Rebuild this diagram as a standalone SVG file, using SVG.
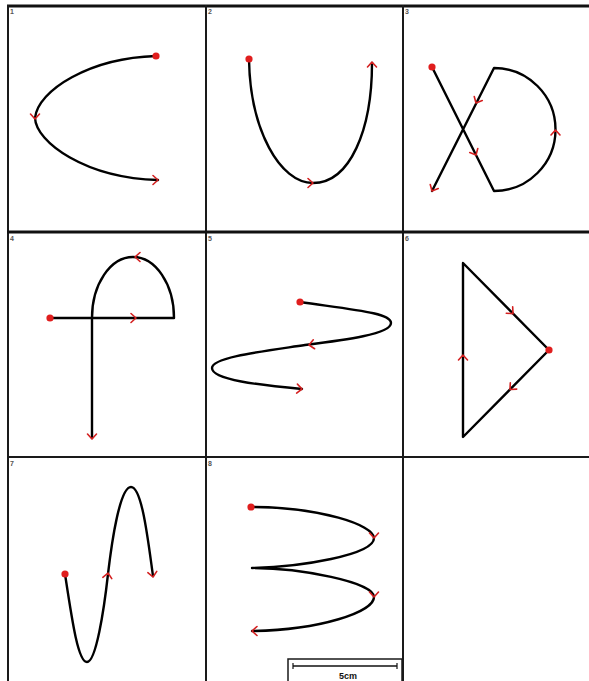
<svg xmlns="http://www.w3.org/2000/svg" xmlns:xlink="http://www.w3.org/1999/xlink" width="589" height="681" viewBox="0 0 589 681">
<style>
.grid{stroke:#1a1a1a;stroke-width:2;fill:none}
.thick{stroke:#111;stroke-width:3;fill:none}
.curve{stroke:#000;stroke-width:2.4;fill:none;stroke-linejoin:round;stroke-linecap:round}
.dot{fill:#e01e1e}
.num{font-family:"Liberation Sans",Arial,sans-serif;font-size:7px;font-weight:bold;fill:#555}
.lbl{font-family:"Liberation Sans",Arial,sans-serif;font-size:9px;font-weight:bold;fill:#111}
</style>
<defs>
<path id="chev" d="M-5,-4.5 L0,0 L-5,4.5" fill="none" stroke="#d42020" stroke-width="1.6" stroke-linecap="round" stroke-linejoin="round"/>
</defs>
<rect x="0" y="0" width="589" height="681" fill="#fff"/>
<g id="grid">
<line class="thick" x1="7" y1="6" x2="589" y2="6"/>
<line class="grid" x1="8" y1="5" x2="8" y2="681"/>
<line class="grid" x1="206" y1="5" x2="206" y2="681"/>
<line class="grid" x1="403" y1="5" x2="403" y2="681"/>
<line class="thick" x1="7" y1="232" x2="589" y2="232"/>
<line class="grid" x1="7" y1="457" x2="589" y2="457"/>
</g>
<g id="numbers">
<text class="num" x="10" y="14">1</text>
<text class="num" x="208" y="14">2</text>
<text class="num" x="405" y="14">3</text>
<text class="num" x="10" y="241">4</text>
<text class="num" x="208" y="241">5</text>
<text class="num" x="405" y="241">6</text>
<text class="num" x="10" y="466">7</text>
<text class="num" x="208" y="466">8</text>
</g>
<g id="connectors">
<path class="curve" d="M156,56 C 90,58 38,90 35,118 C 36,142 85,178 158,180"/>
<path class="curve" d="M249,59 C 250,130 280,183 313,183 C 350,183 372,130 372,63"/>
<path class="curve" d="M432,67 L494,191 A61.5,61.5 0 0 0 494,68 L432,191"/>
<path class="curve" d="M50,318 L174,318 A41,61 0 0 0 92,318 L92,438"/>
<path class="curve" d="M300,302 C 355,310 391,313 391,323 C 391,334 345,340 305,345 C 265,351 212,357 212,368 C 212,380 260,385 302,389"/>
<path class="curve" d="M549,350 L463,437 L463,263 Z"/>
<path class="curve" d="M65,574 C 72,620 78,662 87,662 S 104,610 108,574 C 112,540 120,487 131,487 S 148,540 153,576"/>
<path class="curve" d="M251,507 C 320,507 374,525 374,538 C 374,555 300,567 252,568 C 300,568 374,582 374,597 C 374,612 320,630 252,631"/>
</g>
<g id="arrows">
<use xlink:href="#chev" transform="translate(35,119) rotate(90)"/>
<use xlink:href="#chev" transform="translate(158,180) rotate(0)"/>
<use xlink:href="#chev" transform="translate(313,183) rotate(0)"/>
<use xlink:href="#chev" transform="translate(372,62) rotate(-90)"/>
<use xlink:href="#chev" transform="translate(476,155) rotate(63.4)"/>
<use xlink:href="#chev" transform="translate(476,103) rotate(116.8)"/>
<use xlink:href="#chev" transform="translate(432,191) rotate(116.8)"/>
<use xlink:href="#chev" transform="translate(555.5,130) rotate(-90)"/>
<use xlink:href="#chev" transform="translate(136,318) rotate(0)"/>
<use xlink:href="#chev" transform="translate(135,257) rotate(180)"/>
<use xlink:href="#chev" transform="translate(92,439) rotate(90)"/>
<use xlink:href="#chev" transform="translate(309,345) rotate(171.5)"/>
<use xlink:href="#chev" transform="translate(302,389) rotate(5)"/>
<use xlink:href="#chev" transform="translate(513,313.6) rotate(45.3)"/>
<use xlink:href="#chev" transform="translate(510,389.5) rotate(134.7)"/>
<use xlink:href="#chev" transform="translate(463,355) rotate(-90)"/>
<use xlink:href="#chev" transform="translate(108,573) rotate(-82)"/>
<use xlink:href="#chev" transform="translate(153,577) rotate(82)"/>
<use xlink:href="#chev" transform="translate(374,538) rotate(90)"/>
<use xlink:href="#chev" transform="translate(374,597) rotate(90)"/>
<use xlink:href="#chev" transform="translate(252,631) rotate(180)"/>
</g>
<g id="dots">
<circle class="dot" cx="156" cy="56" r="3.6"/>
<circle class="dot" cx="249" cy="59" r="3.6"/>
<circle class="dot" cx="432" cy="67" r="3.6"/>
<circle class="dot" cx="50" cy="318" r="3.6"/>
<circle class="dot" cx="300" cy="302" r="3.6"/>
<circle class="dot" cx="549" cy="350" r="3.6"/>
<circle class="dot" cx="65" cy="574" r="3.6"/>
<circle class="dot" cx="251" cy="507" r="3.6"/>
</g>
<g id="scalebar">
<rect x="288" y="659" width="114" height="24" fill="#fff" stroke="#1a1a1a" stroke-width="1.5"/>
<line x1="293" y1="666" x2="397" y2="666" stroke="#111" stroke-width="1.5"/>
<line x1="293" y1="663" x2="293" y2="669" stroke="#111" stroke-width="1.2"/>
<line x1="397" y1="663" x2="397" y2="669" stroke="#111" stroke-width="1.2"/>
<text class="lbl" x="348" y="679" text-anchor="middle">5cm</text>
</g>
</svg>
